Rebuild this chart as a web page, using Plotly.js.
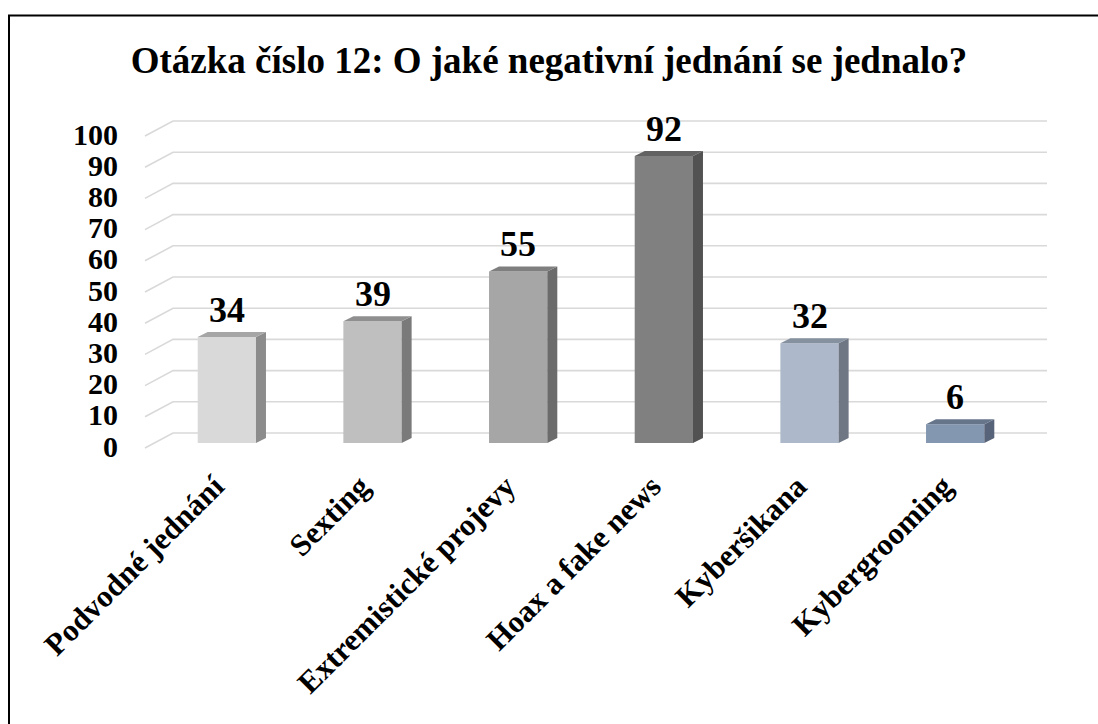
<!DOCTYPE html>
<html><head><meta charset="utf-8">
<script src="https://cdn.plot.ly/plotly-3.0.1.min.js"></script>
<style>html,body{margin:0;padding:0;background:#fff}#chart{width:1098px;height:724px}</style>
</head><body><div id="chart"></div>
<script>
// ---- data ----
const categories = ["Podvodné jednání", "Sexting", "Extremistické projevy", "Hoax a fake news", "Kyberšikana", "Kybergrooming"];
const values = [34, 39, 55, 92, 32, 6];
const yTicks = [0, 10, 20, 30, 40, 50, 60, 70, 80, 90, 100];
const titleText = "Otázka číslo 12: O jaké negativní jednání se jednalo?";

// ---- styles ----
const frontColors = ["#d9d9d9", "#bfbfbf", "#a6a6a6", "#808080", "#adb9ca", "#8497b0"];
const topColors   = ["#a6a6a6", "#8f8f8f", "#7f7f7f", "#626262", "#85919f", "#66758a"];
const sideColors  = ["#8c8c8c", "#7a7a7a", "#6b6b6b", "#525252", "#6f7785", "#576378"];
const FONT = "'Liberation Serif', 'Times New Roman', serif";

const W = 1098, H = 724, ML = 154, MR = 70, MT = 131, MB = 281;
const plotW = W - ML - MR, plotH = H - MT - MB;
const yMin = 0, yMax = 100;
const xs = categories.map((c, i) => i);
const xRange = [-0.5, categories.length - 0.5];
const barHalf = 0.2;
const depthX = 10, depthY = 5; // px of 3D depth
const pxPerX = plotW / (xRange[1] - xRange[0]);
const pxPerY = plotH / (yMax - yMin);
const dx = depthX / pxPerX, dy = depthY / pxPerY;

const shapes = [];
// gridlines on back wall + floor/side slant
yTicks.forEach(v => {
  shapes.push({
    type: 'path', layer: 'below',
    xref: 'paper', yref: 'paper',
    xsizemode: 'pixel', ysizemode: 'pixel',
    xanchor: 0, yanchor: (v - yMin) / (yMax - yMin),
    path: `M-9,-5 L19,10 L${plotW + 19},10`,
    line: {color: '#d9d9d9', width: 1.6}
  });
});
// 3D side and top faces of bars
values.forEach((v, i) => {
  const r = xs[i] + barHalf, l = xs[i] - barHalf;
  shapes.push({
    type: 'path', layer: 'above', xref: 'x', yref: 'y',
    path: `M${r},0 L${r},${v} L${r + dx},${v + dy} L${r + dx},${dy} Z`,
    fillcolor: sideColors[i], line: {width: 0}
  });
  shapes.push({
    type: 'path', layer: 'above', xref: 'x', yref: 'y',
    path: `M${l},${v} L${r},${v} L${r + dx},${v + dy} L${l + dx},${v + dy} Z`,
    fillcolor: topColors[i], line: {width: 0}
  });
});
// outer chart border
shapes.push({
  type: 'rect', xref: 'paper', yref: 'paper',
  xsizemode: 'pixel', ysizemode: 'pixel', xanchor: 0, yanchor: 1,
  x0: 9 - ML, x1: W, y0: MT - 15.5, y1: -H,
  line: {color: '#000', width: 2}, fillcolor: 'rgba(0,0,0,0)'
});

const annotations = values.map((v, i) => ({
  x: xs[i], y: v, xref: 'x', yref: 'y', text: String(v),
  showarrow: false, yanchor: 'bottom', yshift: 5,
  font: {family: FONT, size: 36, color: '#000', weight: 'bold'}
}));

const trace = {
  type: 'bar', x: xs, y: values, width: barHalf * 2,
  marker: {color: frontColors, line: {width: 0}},
  hoverinfo: 'skip'
};

const layout = {
  width: W, height: H,
  margin: {l: ML, r: MR, t: MT, b: MB, pad: 0},
  paper_bgcolor: '#fff', plot_bgcolor: 'rgba(0,0,0,0)',
  showlegend: false,
  title: {
    text: '<b>' + titleText + '</b>',
    x: 0.5, xanchor: 'center', xref: 'container',
    y: 1 - 60 / H, yanchor: 'middle', yref: 'container',
    font: {family: FONT, size: 37, color: '#000'}
  },
  xaxis: {
    type: 'linear', range: xRange, tickvals: xs, ticktext: categories,
    tickangle: -45, ticks: '', showgrid: false, zeroline: false, showline: false,
    ticklabelstandoff: 18, ticklabelshift: -12,
    tickfont: {family: FONT, size: 31, color: '#000', weight: 'bold'},
    fixedrange: true
  },
  yaxis: {
    range: [yMin, yMax], tickvals: yTicks, ticks: '',
    showgrid: false, zeroline: false, showline: false,
    ticklabelstandoff: 35, ticklabelshift: 3,
    tickfont: {family: FONT, size: 30, color: '#000', weight: 'bold'},
    fixedrange: true
  },
  shapes: shapes,
  annotations: annotations
};

Plotly.newPlot('chart', [trace], layout, {displayModeBar: false, staticPlot: true});
</script>
</body></html>
